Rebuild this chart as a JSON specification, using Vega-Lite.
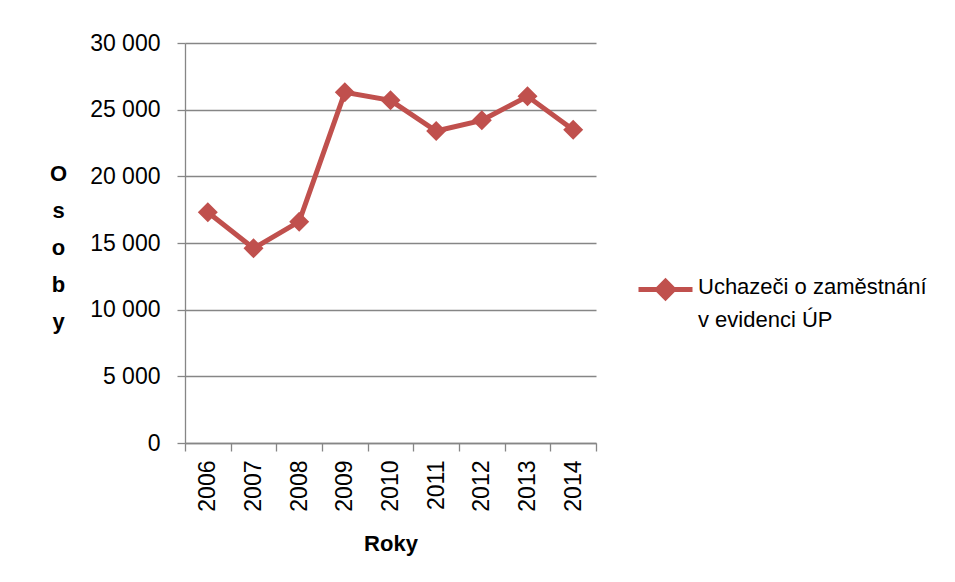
{
  "$schema": "https://vega.github.io/schema/vega-lite/v6.json",
  "autosize": {"type": "none"},
  "padding": {"left": 185, "top": 43, "right": 359, "bottom": 139},
  "width": 411,
  "height": 400,
  "background": "white",
  "config": {
    "view": {"stroke": null},
    "font": "Liberation Sans",
    "axis": {
      "domainColor": "#868686",
      "tickColor": "#868686",
      "gridColor": "#868686",
      "domainWidth": 1.3,
      "tickWidth": 1.3,
      "gridWidth": 1.3,
      "labelColor": "black",
      "titleColor": "black",
      "labelFont": "Liberation Sans",
      "titleFont": "Liberation Sans",
      "labelFontSize": 23,
      "titleFontSize": 22,
      "titleFontWeight": "bold"
    }
  },
  "data": {
    "values": [
      {"rok": "2006", "osoby": 17300, "serie": "Uchazeči o zaměstnání v evidenci ÚP"},
      {"rok": "2007", "osoby": 14600, "serie": "Uchazeči o zaměstnání v evidenci ÚP"},
      {"rok": "2008", "osoby": 16600, "serie": "Uchazeči o zaměstnání v evidenci ÚP"},
      {"rok": "2009", "osoby": 26300, "serie": "Uchazeči o zaměstnání v evidenci ÚP"},
      {"rok": "2010", "osoby": 25700, "serie": "Uchazeči o zaměstnání v evidenci ÚP"},
      {"rok": "2011", "osoby": 23400, "serie": "Uchazeči o zaměstnání v evidenci ÚP"},
      {"rok": "2012", "osoby": 24200, "serie": "Uchazeči o zaměstnání v evidenci ÚP"},
      {"rok": "2013", "osoby": 26000, "serie": "Uchazeči o zaměstnání v evidenci ÚP"},
      {"rok": "2014", "osoby": 23500, "serie": "Uchazeči o zaměstnání v evidenci ÚP"}
    ]
  },
  "mark": {
    "type": "line",
    "strokeWidth": 5,
    "point": {"filled": true, "shape": "diamond", "size": 400, "opacity": 1}
  },
  "encoding": {
    "x": {
      "field": "rok",
      "type": "ordinal",
      "scale": {"type": "band", "paddingInner": 0, "paddingOuter": 0},
      "axis": {
        "title": "Roky",
        "labelAngle": 270,
        "tickBand": "extent",
        "tickSize": 8,
        "labelPadding": 9,
        "titlePadding": 22,
        "grid": false
      }
    },
    "y": {
      "field": "osoby",
      "type": "quantitative",
      "scale": {"domain": [0, 30000], "nice": false},
      "axis": {
        "values": [0, 5000, 10000, 15000, 20000, 25000, 30000],
        "labelExpr": "replace(format(datum.value, ','), ',', ' ')",
        "tickSize": 8,
        "labelPadding": 17,
        "grid": true,
        "title": ["O", "s", "o", "b", "y"],
        "titleAngle": 0,
        "titleAlign": "center",
        "titleBaseline": "top",
        "titleX": -127,
        "titleY": 120,
        "titleLineHeight": 37
      }
    },
    "color": {
      "field": "serie",
      "type": "nominal",
      "scale": {"range": ["#C0504D"]},
      "legend": {
        "title": null,
        "orient": "none",
        "legendX": 451,
        "legendY": 217,
        "symbolType": "M-1,0H1M-0.3,0L0,-0.3L0.3,0L0,0.3Z",
        "symbolSize": 2916,
        "symbolStrokeWidth": 5,
        "symbolFillColor": "#C0504D",
        "symbolStrokeColor": "#C0504D",
        "labelExpr": "[slice(datum.label, 0, 21), slice(datum.label, 22)]",
        "labelFont": "Liberation Sans",
        "labelFontSize": 22,
        "labelColor": "black",
        "labelOffset": 3,
        "labelLimit": 400,
        "labelBaseline": "top",
        "encode": {
          "labels": {"update": {"lineHeight": {"value": 33}, "dy": {"value": -13}}}
        }
      }
    }
  }
}
